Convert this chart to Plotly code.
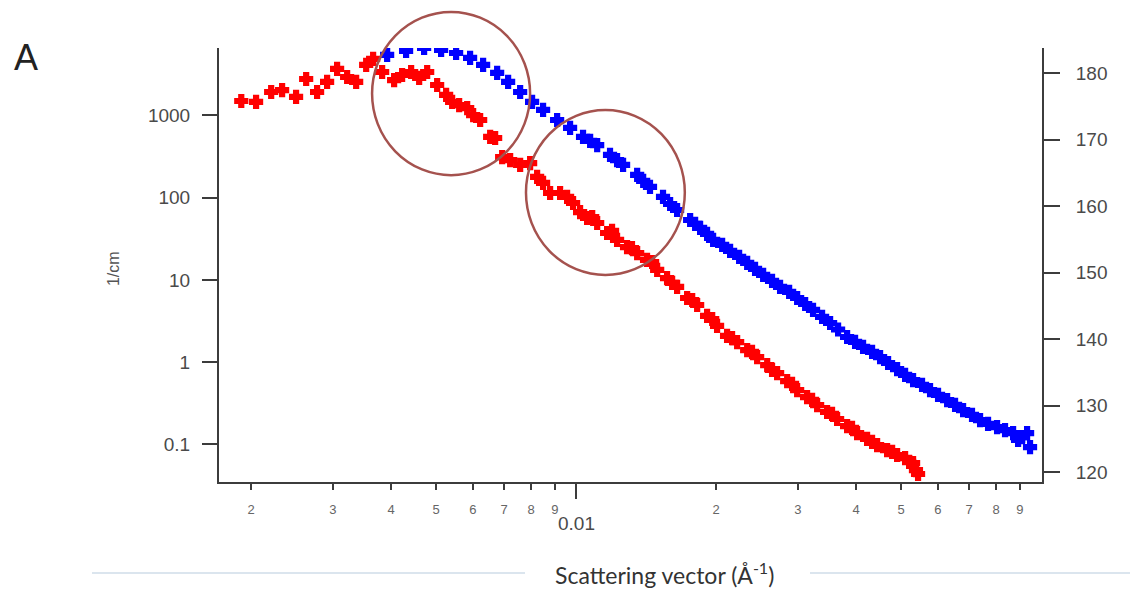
import plotly.graph_objects as go

# ---- data ----
red_q = [0.001905, 0.002050, 0.002209, 0.002332, 0.002499, 0.002627, 0.002773, 0.002914,
         0.003062, 0.003218, 0.003365, 0.003536, 0.003660, 0.003827, 0.004061, 0.004225,
         0.004418, 0.004597, 0.004783, 0.005025, 0.005254, 0.005413, 0.005604, 0.005831,
         0.006006, 0.006218, 0.006534, 0.006697, 0.006934, 0.007214, 0.007580, 0.007964,
         0.008245, 0.008492, 0.008793, 0.009239, 0.009564, 0.009852, 0.01020, 0.01056,
         0.01083, 0.01110, 0.01166, 0.01195, 0.01225, 0.01287, 0.01319, 0.01353, 0.01421,
         0.01457, 0.01494, 0.01569, 0.01609, 0.01649, 0.01733, 0.01777, 0.01821, 0.01913,
         0.01962, 0.02010, 0.02112, 0.02165, 0.02220, 0.02333, 0.02390, 0.02451, 0.02576,
         0.02639, 0.02706, 0.02844, 0.02914, 0.02988, 0.03139, 0.03218, 0.03299, 0.03466,
         0.03552, 0.03642, 0.03827, 0.03922, 0.04021, 0.04225, 0.04331, 0.04440, 0.04665,
         0.04783, 0.04902, 0.05100, 0.05202, 0.05306, 0.05382, 0.05438]
red_i = [1500, 1460, 1930, 2040, 1680, 2780, 1930, 2560,
         3680, 2940, 2560, 4120, 4870, 3380, 2700, 3110,
         3380, 2860, 3380, 2350, 1780, 1460, 1340, 1230,
         1010, 881, 548, 532, 312, 287, 250, 264,
         179, 151, 114, 114, 102, 86.2, 66.9, 56.6,
         58.2, 49.2, 37.2, 39.4, 30.6, 25.1, 24.4, 21.2, 17.5,
         16.5, 13.2, 10.5, 9.17, 8.20, 6.02, 5.69, 4.95, 3.64,
         3.34, 2.75, 2.08, 1.96, 1.75, 1.40, 1.33, 1.15, 0.920,
         0.802, 0.735, 0.587, 0.542, 0.456, 0.375, 0.346, 0.300, 0.247,
         0.234, 0.203, 0.166, 0.158, 0.137, 0.116, 0.107, 0.0978, 0.0851,
         0.0806, 0.0740, 0.0680, 0.0610, 0.0591, 0.0485, 0.0435]

blue_q = [0.003923, 0.004309, 0.004711, 0.005125, 0.005520, 0.005916, 0.006310, 0.006764,
          0.007142, 0.007580, 0.008042, 0.008492, 0.009103, 0.009707, 0.01035, 0.01072,
          0.01110, 0.01183, 0.01225, 0.01262, 0.01353, 0.01394, 0.01442, 0.01538, 0.01593,
          0.01649, 0.01759, 0.01803, 0.01848, 0.01913, 0.01971, 0.02061, 0.02144, 0.02242,
          0.02333, 0.02426, 0.02525, 0.02639, 0.02746, 0.02872, 0.02988, 0.03109, 0.03233,
          0.03381, 0.03518, 0.03660, 0.03827, 0.03981, 0.04142, 0.04331, 0.04506, 0.04688,
          0.04902, 0.05100, 0.05306, 0.05547, 0.05771, 0.06004, 0.06280, 0.06532, 0.06797,
          0.07104, 0.07393, 0.07691, 0.08042, 0.08366, 0.08707, 0.08925, 0.09101, 0.09331,
          0.09469]
blue_i = [5450, 6100, 6620, 6270, 5760, 5010, 4120, 3290,
          2560, 1930, 1460, 1170, 881, 705, 548, 490,
          437, 331, 287, 250, 189, 160, 135, 102, 83.8,
          70.8, 53.5, 47.9, 42.8, 36.2, 30.6, 26.6, 22.5, 19.0,
          16.1, 13.6, 11.5, 9.70, 8.20, 7.13, 6.02, 5.09, 4.31,
          3.54, 2.99, 2.49, 2.02, 1.76, 1.53, 1.33, 1.15, 0.975,
          0.822, 0.697, 0.604, 0.527, 0.456, 0.398, 0.345, 0.301, 0.261,
          0.228, 0.197, 0.177, 0.162, 0.149, 0.137, 0.113, 0.122, 0.137,
          0.0925]

left_ticks = [0.1, 1, 10, 100, 1000]
left_tick_labels = ["0.1", "1", "10", "100", "1000"]
right_ticks = [120, 130, 140, 150, 160, 170, 180]
x_ticks = [0.002, 0.003, 0.004, 0.005, 0.006, 0.007, 0.008, 0.009,
           0.02, 0.03, 0.04, 0.05, 0.06, 0.07, 0.08, 0.09]
x_tick_labels = ["2", "3", "4", "5", "6", "7", "8", "9",
                 "2", "3", "4", "5", "6", "7", "8", "9"]
x_major = [0.01]

AX = "#3c3c3c"
LBL = "#4a4a4a"

fig = go.Figure()
fig.add_trace(go.Scatter(x=blue_q, y=blue_i, mode="markers",
                         marker=dict(symbol="cross", size=10, color="#0000ff",
                                     line=dict(color="#0000ff", width=2.2)),
                         showlegend=False, hoverinfo="skip"))
fig.add_trace(go.Scatter(x=red_q, y=red_i, mode="markers",
                         marker=dict(symbol="cross", size=10, color="#ff0000",
                                     line=dict(color="#ff0000", width=2.2)),
                         showlegend=False, hoverinfo="skip"))
fig.add_trace(go.Scatter(x=[], y=[], yaxis="y2", mode="markers",
                         showlegend=False, hoverinfo="skip"))

fig.update_layout(
    width=1130, height=589,
    margin=dict(l=219, r=88, t=48, b=107),
    paper_bgcolor="white", plot_bgcolor="white",
    font=dict(family="Liberation Sans, Arial, sans-serif", color=LBL),
    xaxis=dict(type="log", range=[-2.768, -0.998],
               showline=True, linewidth=2, linecolor=AX, mirror=False,
               showgrid=False, zeroline=False,
               tickmode="array", tickvals=x_ticks, ticktext=x_tick_labels,
               ticks="outside", ticklen=6, tickwidth=2, tickcolor=AX,
               tickfont=dict(size=13, color="#666"), ticklabelstandoff=8,
               minor=dict(tickmode="array", tickvals=x_major, ticks="outside",
                          ticklen=15, tickwidth=2, tickcolor=AX, showgrid=False)),
    yaxis=dict(type="log", range=[-1.459, 3.821],
               showline=True, linewidth=2, linecolor=AX,
               showgrid=False, zeroline=False,
               tickmode="array", tickvals=left_ticks, ticktext=left_tick_labels,
               ticks="outside", ticklen=15, tickwidth=2, tickcolor=AX,
               tickfont=dict(size=19, color=LBL), ticklabelstandoff=8),
    yaxis2=dict(overlaying="y", side="right", anchor="x", range=[118.5, 183.76],
                showline=True, linewidth=2, linecolor=AX,
                showgrid=False, zeroline=False,
                tickmode="array", tickvals=right_ticks,
                ticks="outside", ticklen=16, tickwidth=2, tickcolor=AX,
                tickfont=dict(size=19, color=LBL), ticklabelstandoff=12),
)

# highlight circles
circ = "rgb(165,82,78)"
fig.add_shape(type="circle", xref="paper", yref="paper",
              x0=0.186, x1=0.378, y0=0.707, y1=1.083,
              line=dict(color=circ, width=2.5))
fig.add_shape(type="circle", xref="paper", yref="paper",
              x0=0.373, x1=0.566, y0=0.477, y1=0.857,
              line=dict(color=circ, width=2.5))

# light rules beside the axis title
rule = "#dbe5ee"
fig.add_shape(type="line", xref="paper", yref="paper",
              x0=-0.1543, x1=0.3718, y0=-0.2097, y1=-0.2097,
              line=dict(color=rule, width=2))
fig.add_shape(type="line", xref="paper", yref="paper",
              x0=0.7181, x1=1.1069, y0=-0.2097, y1=-0.2097,
              line=dict(color=rule, width=2))

fig.add_annotation(x=-2, y=-0.0945, xref="x", yref="paper", text="0.01",
                   showarrow=False, xanchor="center", yanchor="middle",
                   font=dict(size=19, color=LBL))
fig.add_annotation(x=0.541, y=-0.2097, xref="paper", yref="paper",
                   text="Scattering vector (Å<sup>-1</sup>)",
                   showarrow=False, xanchor="center", yanchor="middle",
                   font=dict(family="Lato, sans-serif", size=23, color="#333"))
fig.add_annotation(x=-0.1288, y=0.493, xref="paper", yref="paper", text="1/cm",
                   textangle=-90, showarrow=False, xanchor="center", yanchor="middle",
                   font=dict(size=16, color="#555"))
fig.add_annotation(x=-0.2345, y=0.977, xref="paper", yref="paper", text="A",
                   showarrow=False, xanchor="center", yanchor="middle",
                   font=dict(size=36, color="#222"))

fig.write_html("out.html", config={"displayModeBar": False},
               post_script="document.body.style.margin='0px';")
